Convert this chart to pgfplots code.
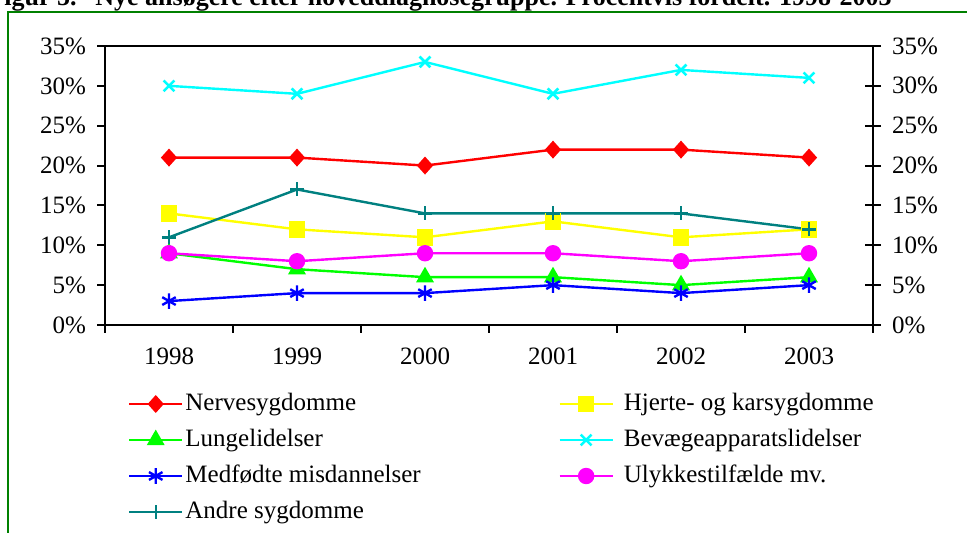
\documentclass[border=0pt]{standalone}
\usepackage{pgfplots}
\pgfplotsset{compat=1.18}
\usepackage{fontspec}
\setmainfont{Liberation Serif}
\definecolor{cRed}{RGB}{255,0,0}
\definecolor{cYel}{RGB}{255,255,0}
\definecolor{cGrn}{RGB}{0,255,0}
\definecolor{cCya}{RGB}{0,255,255}
\definecolor{cBlu}{RGB}{0,0,255}
\definecolor{cMag}{RGB}{255,0,255}
\definecolor{cTea}{RGB}{0,128,128}
\definecolor{frameGreen}{RGB}{0,128,0}
\begin{document}
\begin{tikzpicture}
\useasboundingbox (0,0) rectangle (483.5pt,266.5pt);
\clip (0,0) rectangle (483.5pt,266.5pt);
% title (partly cut off at top, as in the reference)
\node[anchor=base east, inner sep=0pt, font=\fontsize{13}{15}\selectfont\bfseries] at (38.5pt,263.5pt) {Figur 5.};
\node[anchor=base west, inner sep=0pt, font=\fontsize{13}{15}\selectfont\bfseries] at (47.5pt,263.5pt) {Nye ansøgere efter hoveddiagnosegruppe. Procentvis fordelt. 1998-2003};
% green frame
\draw[frameGreen, line width=1pt] (4pt,-2pt) -- (4pt,260.5pt) -- (490pt,260.5pt);
\begin{axis}[
  at={(52.5pt,104pt)}, anchor=south west,
  scale only axis, width=384pt, height=139.5pt,
  xmin=-0.5, xmax=5.5, ymin=0, ymax=35,
  axis line style={line width=1.3pt, black},
  tick style={line width=1pt, black},
  tick align=outside, major tick length=4pt,
  xtick pos=bottom, ytick pos=left,
  xtick={-0.5,0.5,...,5.5},
  xticklabels={1998,1999,2000,2001,2002,2003,{}},
  xticklabel style={xshift=32pt, yshift=-4pt},
  ytick={0,5,...,35},
  yticklabel={\pgfmathprintnumber{\tick}\%},
  yticklabel style={xshift=-2pt},
  /pgf/number format/assume math mode=true,
  tick label style={font=\fontsize{12.5}{15}\selectfont},
  every axis plot/.append style={line width=1.2pt},
  legend columns=2,
  legend cell align=left,
  legend image code/.code={\draw[mark repeat=2,mark phase=2,#1] plot coordinates {(0pt,0pt) (13.25pt,0pt) (26.5pt,0pt)};},
  legend style={at={(0.03,-0.233)}, anchor=north west, draw=none, inner sep=0pt, outer sep=0pt,
    font=\fontsize{12.5}{15}\selectfont,
    nodes={inner sep=1pt, text height=9pt, text depth=3pt},
    row sep=4pt},
]
\addplot[cRed, mark=diamond*, mark size=3.6pt, mark options={solid, xscale=1.2}] coordinates {(0,21)(1,21)(2,20)(3,22)(4,22)(5,21)};
\addlegendentry{\makebox[185.5pt][l]{Nervesygdomme}}
\addplot[cYel, mark=square*, mark size=3.5pt] coordinates {(0,14)(1,12)(2,11)(3,13)(4,11)(5,12)};
\addlegendentry{\hspace{4pt}Hjerte- og karsygdomme}
\addplot[cGrn, mark=triangle*, mark size=4pt] coordinates {(0,9)(1,7)(2,6)(3,6)(4,5)(5,6)};
\addlegendentry{\makebox[185.5pt][l]{Lungelidelser}}
\addplot[cCya, mark=x, mark size=3.8pt, mark options={line width=1.3pt}] coordinates {(0,30)(1,29)(2,33)(3,29)(4,32)(5,31)};
\addlegendentry{\hspace{4pt}Bevægeapparatslidelser}
\addplot[cBlu, mark=asterisk, mark size=3.9pt, mark options={line width=1.2pt}] coordinates {(0,3)(1,4)(2,4)(3,5)(4,4)(5,5)};
\addlegendentry{\makebox[185.5pt][l]{Medfødte misdannelser}}
\addplot[cMag, mark=*, mark size=3.5pt] coordinates {(0,9)(1,8)(2,9)(3,9)(4,8)(5,9)};
\addlegendentry{\hspace{4pt}Ulykkestilfælde mv.}
\addplot[cTea, mark=+, mark size=3.5pt, mark options={line width=1.2pt}] coordinates {(0,11)(1,17)(2,14)(3,14)(4,14)(5,12)};
\addlegendentry{\makebox[185.5pt][l]{Andre sygdomme}}
\end{axis}
\begin{axis}[
  at={(52.5pt,104pt)}, anchor=south west,
  scale only axis, width=384pt, height=139.5pt,
  xmin=-0.5, xmax=5.5, ymin=0, ymax=35,
  axis x line=none, axis y line*=right,
  axis line style={line width=1.3pt, black, -},
  tick style={line width=1pt, black},
  tick align=center, major tick length=8pt,
  ytick={0,5,...,35},
  yticklabel={\pgfmathprintnumber{\tick}\%},
  yticklabel style={xshift=2pt},
  /pgf/number format/assume math mode=true,
  tick label style={font=\fontsize{12.5}{15}\selectfont},
]
\addplot[draw=none] coordinates {(0,0)};
\end{axis}
\end{tikzpicture}
\end{document}
